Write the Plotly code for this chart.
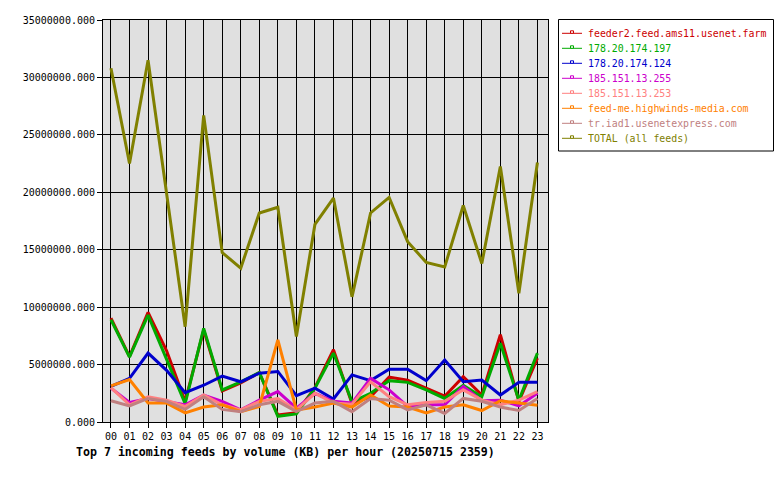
import plotly.graph_objects as go

hours = [f"{h:02d}" for h in range(24)]

feed_names = [
    "feeder2.feed.ams11.usenet.farm",
    "178.20.174.197",
    "178.20.174.124",
    "185.151.13.255",
    "185.151.13.253",
    "feed-me.highwinds-media.com",
    "tr.iad1.usenetexpress.com",
    "TOTAL (all feeds)",
]
feed_colors = ["#cc0000", "#00aa00", "#0000cc", "#cc00cc", "#ff8080", "#ff8000", "#c08080", "#808000"]

feeder2 = [9050000, 5700000, 9550000, 6200000, 1800000, 8000000, 2700000, 3400000, 4300000, 600000, 800000, 3000000,
           6300000, 1600000, 2200000, 3900000, 3650000, 2950000, 2250000, 3950000, 2350000, 7600000, 1800000, 5550000]
ip_197 = [8900000, 5650000, 9300000, 5400000, 1600000, 8150000, 2800000, 3500000, 4300000, 500000, 700000, 2950000,
          6000000, 1750000, 2500000, 3600000, 3450000, 2800000, 2050000, 3200000, 2200000, 6850000, 1900000, 6000000]
ip_124 = [3100000, 3800000, 6000000, 4500000, 2550000, 3200000, 4000000, 3500000, 4250000, 4400000, 2300000, 2950000,
          2000000, 4100000, 3600000, 4600000, 4600000, 3600000, 5400000, 3500000, 3650000, 2350000, 3450000, 3450000]
ip_255 = [2950000, 1700000, 2050000, 1800000, 1500000, 2350000, 1800000, 1050000, 1900000, 2650000, 1200000, 2500000,
          1800000, 1650000, 3800000, 2800000, 1350000, 1500000, 1500000, 3100000, 1850000, 1900000, 1400000, 2500000]
ip_253 = [3000000, 1500000, 2200000, 1900000, 1350000, 2350000, 1500000, 1050000, 1800000, 2050000, 1050000, 2500000,
          1650000, 1550000, 3500000, 2200000, 1500000, 1700000, 1800000, 2800000, 1900000, 1500000, 1900000, 2650000]
highwinds = [3150000, 3700000, 1650000, 1650000, 800000, 1300000, 1500000, 900000, 1350000, 7150000, 1050000, 1300000,
             1650000, 1300000, 2350000, 1400000, 1300000, 800000, 1300000, 1500000, 1000000, 1850000, 1650000, 1450000]
usenetexpress = [1850000, 1400000, 2050000, 1800000, 1100000, 2200000, 1100000, 900000, 1500000, 1800000, 900000, 1650000,
                 1800000, 900000, 2050000, 1900000, 1050000, 1500000, 750000, 2050000, 1800000, 1300000, 1000000, 2050000]
total = [30800000, 22500000, 31500000, 19700000, 8300000, 26700000, 14750000, 13400000, 18200000, 18700000, 7450000, 17200000,
         19500000, 10900000, 18200000, 19550000, 15700000, 13900000, 13500000, 18850000, 13800000, 22250000, 11200000, 22600000]

series = [feeder2, ip_197, ip_124, ip_255, ip_253, highwinds, usenetexpress, total]

y_ticks = [0, 5000000, 10000000, 15000000, 20000000, 25000000, 30000000, 35000000]
title_text = "Top 7 incoming feeds by volume (KB) per hour (20250715 2359)"

W, H = 780, 480
L, R, T, B = 103, 548, 20, 422
MONO = "DejaVu Sans Mono"


def px(xpix):
    return (xpix - L) / (R - L)


def py(ypix):
    return (B - ypix) / (B - T)


fig = go.Figure()
for name, vals, col in zip(feed_names, series, feed_colors):
    fig.add_trace(go.Scatter(x=hours, y=vals, name=name, mode="lines",
                             line=dict(color=col, width=3), showlegend=False))

shapes = []
annotations = []
# legend box
shapes.append(dict(type="rect", xref="paper", yref="paper",
                   x0=px(558.5), x1=px(773.5), y0=py(151), y1=py(19.5),
                   line=dict(color="black", width=1), fillcolor="white", layer="above"))
for i, (name, col) in enumerate(zip(feed_names, feed_colors)):
    yc = 33.3 + i * 15.0
    shapes.append(dict(type="line", xref="paper", yref="paper",
                       x0=px(562), x1=px(582), y0=py(yc), y1=py(yc),
                       line=dict(color=col, width=1), layer="above"))
    shapes.append(dict(type="rect", xref="paper", yref="paper",
                       x0=px(570.5), x1=px(573.5), y0=py(yc), y1=py(yc - 2.5),
                       line=dict(color=col, width=1), fillcolor="white", layer="above"))
    annotations.append(dict(xref="paper", yref="paper", x=px(585.5), y=py(yc),
                            xanchor="left", yanchor="middle", showarrow=False, text=name,
                            font=dict(family=MONO, size=9.9, color=col)))

annotations.append(dict(xref="paper", yref="paper", x=px(74), y=py(452),
                        xanchor="left", yanchor="middle", showarrow=False,
                        text="<b>" + title_text + "</b>",
                        font=dict(family=MONO, size=11.6, color="black")))

fig.update_layout(
    width=W, height=H,
    margin=dict(l=L, r=W - R, t=T, b=H - B, pad=0),
    paper_bgcolor="white", plot_bgcolor="#e0e0e0",
    font=dict(family=MONO, size=10, color="black"),
    showlegend=False,
    shapes=shapes, annotations=annotations,
)
fig.update_xaxes(type="category", range=[-0.43, 23.57], showgrid=True, gridcolor="black", gridwidth=1,
                 ticks="outside", ticklen=5, tickcolor="black", showline=True, mirror=True,
                 linecolor="black", linewidth=1, tickfont=dict(family=MONO, size=10), fixedrange=True)
fig.update_yaxes(range=[0, 35000000], tickvals=y_ticks, tickformat=".3f", showgrid=True, gridcolor="black",
                 gridwidth=1, zeroline=False, ticks="outside", ticklen=5, tickcolor="black", showline=True,
                 mirror=True, linecolor="black", linewidth=1, tickfont=dict(family=MONO, size=10), fixedrange=True)

fig.write_html("out.html")
